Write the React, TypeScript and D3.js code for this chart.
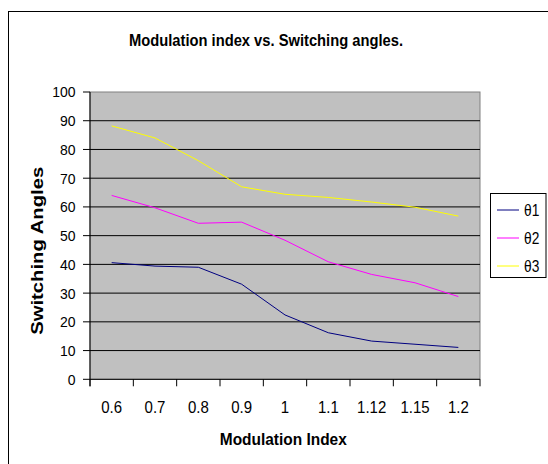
import React from "react";
import * as d3 from "d3";

const categories = ["0.6", "0.7", "0.8", "0.9", "1", "1.1", "1.12", "1.15", "1.2"];
const theta1 = [40.6, 39.4, 39.0, 33.1, 22.4, 16.2, 13.3, 12.2, 11.1];
const theta2 = [64.0, 59.7, 54.3, 54.7, 48.4, 40.9, 36.5, 33.6, 28.8];
const theta3 = [88.2, 84.0, 76.1, 67.0, 64.4, 63.3, 61.7, 59.9, 56.8];
const yTicks = [0, 10, 20, 30, 40, 50, 60, 70, 80, 90, 100];
const seriesNames = ["θ1", "θ2", "θ3"];
const seriesColors = ["#000080", "#ff00ff", "#ffff00"];

// approximate em widths for narrow-looking labels
const em = (s: string) => s.split("").reduce((a, ch) => a + (ch === "." ? 0.278 : 0.556), 0);

export default function App() {
  const W = 548, H = 464;
  const left = 90, right = 480, top = 92, bottom = 379.3;
  const x = d3.scaleBand<string>().domain(categories).range([left, right]);
  const y = d3.scaleLinear().domain([0, 100]).range([bottom, top]);
  const line = d3
    .line<number>()
    .x((_, i) => (x(categories[i]) as number) + x.bandwidth() / 2)
    .y((d) => y(d));
  const series = [theta1, theta2, theta3];
  const font = "'Liberation Sans', Arial, sans-serif";
  const tickX = categories.map((c) => x(c) as number).concat([right]);

  return (
    <svg width={W} height={H} style={{ position: "absolute", left: 0, top: 0, fontFamily: font }}>
      <rect x={0} y={0} width={W} height={H} fill="#fff" />
      <rect x={8.5} y={11.5} width={W} height={H} fill="none" stroke="#000" strokeWidth={1} />
      <text x={266} y={45.7} textAnchor="middle" fontSize={17} fontWeight="bold" fill="#000" textLength={274} lengthAdjust="spacingAndGlyphs">
        Modulation index vs. Switching angles.
      </text>
      <rect x={left} y={top} width={right - left} height={bottom - top} fill="#c0c0c0" stroke="#808080" strokeWidth={1} />
      {yTicks.filter((t) => t > 0 && t < 100).map((t) => (
        <line key={t} x1={left} x2={right} y1={y(t)} y2={y(t)} stroke="#000" strokeWidth={1} />
      ))}
      {series.map((s, i) => (
        <path key={i} d={line(s) || ""} fill="none" stroke={seriesColors[i]} strokeWidth={1} />
      ))}
      <line x1={left} x2={left} y1={top} y2={bottom + 7} stroke="#000" />
      <line x1={left} x2={right} y1={bottom} y2={bottom} stroke="#000" />
      {yTicks.map((t) => (
        <g key={t}>
          <line x1={left - 7} x2={left} y1={y(t)} y2={y(t)} stroke="#000" />
          <text
            x={75.5}
            y={y(t) + 5.4}
            textAnchor="end"
            fontSize={15.5}
            fill="#000"
            textLength={14 * em(String(t))}
            lengthAdjust="spacingAndGlyphs"
          >
            {t}
          </text>
        </g>
      ))}
      {tickX.map((tx, i) => (
        <line key={i} x1={tx} x2={tx} y1={bottom} y2={bottom + 7} stroke="#000" />
      ))}
      {categories.map((c) => (
        <text
          key={c}
          x={(x(c) as number) + x.bandwidth() / 2}
          y={413.3}
          textAnchor="middle"
          fontSize={16.5}
          fill="#000"
          textLength={15 * em(c)}
          lengthAdjust="spacingAndGlyphs"
        >
          {c}
        </text>
      ))}
      <text x={283.3} y={445} textAnchor="middle" fontSize={17} fontWeight="bold" fill="#000" textLength={127} lengthAdjust="spacingAndGlyphs">
        Modulation Index
      </text>
      <text
        transform={`translate(43,250.8) rotate(-90)`}
        textAnchor="middle"
        fontSize={17}
        fontWeight="bold"
        fill="#000"
        textLength={168}
        lengthAdjust="spacingAndGlyphs"
      >
        Switching Angles
      </text>
      <rect x={490.5} y={193.5} width={55.5} height={84} fill="#fff" stroke="#000" strokeWidth={1} />
      {seriesNames.map((n, i) => {
        const ly = 210 + i * 28;
        return (
          <g key={n}>
            <line x1={497} x2={519} y1={ly} y2={ly} stroke={seriesColors[i]} strokeWidth={1} />
            <text x={524} y={ly + 6.2} fontSize={17} fill="#000" textLength={15.3} lengthAdjust="spacingAndGlyphs">
              {n}
            </text>
          </g>
        );
      })}
    </svg>
  );
}
